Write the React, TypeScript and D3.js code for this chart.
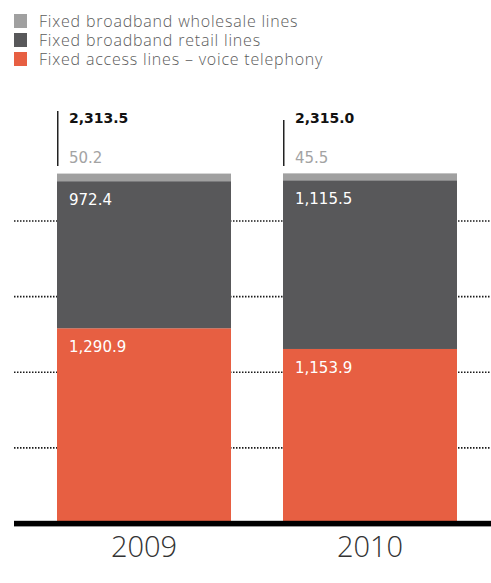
import React from "react";
import * as d3 from "d3";

const years = ["2009", "2010"];
const voiceLines = [1290.9, 1153.9];
const retailLines = [972.4, 1115.5];
const wholesaleLines = [50.2, 45.5];
const totals = ["2,313.5", "2,315.0"];
const voiceLabels = ["1,290.9", "1,153.9"];
const retailLabels = ["972.4", "1,115.5"];
const wholesaleLabels = ["50.2", "45.5"];
const gridValues = [500, 1000, 1500, 2000];
const legendItems = [
  { label: "Fixed broadband wholesale lines", color: "#a0a0a0" },
  { label: "Fixed broadband retail lines", color: "#58585a" },
  { label: "Fixed access lines – voice telephony", color: "#e75f42" },
];

const W = 491;
const H = 583;

export default function App() {
  const y = d3.scaleLinear().domain([0, 2000]).range([523.5, 221]);
  const x = d3
    .scaleBand<string>()
    .domain(years)
    .range([57, 457])
    .paddingInner(52 / 226)
    .paddingOuter(0);
  const bw = x.bandwidth();
  const numFont = "'DejaVu Sans', Verdana, sans-serif";
  const lightFont = "'Open Sans', 'Noto Sans', sans-serif";
  const leaderTops = [111, 120];

  return (
    <svg
      width={W}
      height={H}
      style={{ position: "absolute", left: 0, top: 0, background: "#fff" }}
    >
      {/* legend */}
      {legendItems.map((it, i) => (
        <g key={it.label}>
          <rect x={14} y={14 + i * 19} width={13} height={14} fill={it.color} />
          <text
            x={39}
            y={27 + i * 19}
            fontFamily={lightFont}
            fontWeight={300}
            fontSize={16}
            letterSpacing={0.8}
            fill="#5c5c5c"
          >
            {it.label}
          </text>
        </g>
      ))}

      {/* dotted grid */}
      {gridValues.map((v) => (
        <line
          key={v}
          x1={14}
          x2={491}
          y1={y(v)}
          y2={y(v)}
          stroke="#1a1a1a"
          strokeWidth={1.7}
          strokeDasharray="1.5 1.5"
        />
      ))}

      {/* bars */}
      {years.map((yr, i) => {
        const x0 = x(yr) as number;
        const v0 = voiceLines[i];
        const v1 = v0 + retailLines[i];
        const v2 = v1 + wholesaleLines[i];
        return (
          <g key={yr}>
            <rect x={x0} y={y(v0)} width={bw} height={y(0) - y(v0)} fill="#e75f42" />
            <rect x={x0} y={y(v1)} width={bw} height={y(v0) - y(v1)} fill="#58585a" />
            <rect x={x0} y={y(v2)} width={bw} height={y(v1) - y(v2)} fill="#a0a0a0" />
            <text
              x={x0 + 12}
              y={y(v0) + 24}
              fontFamily={numFont}
              fontSize={15}
              fill="#ffffff"
            >
              {voiceLabels[i]}
            </text>
            <text
              x={x0 + 12}
              y={y(v1) + 24}
              fontFamily={numFont}
              fontSize={15}
              fill="#ffffff"
            >
              {retailLabels[i]}
            </text>
            <line
              x1={x0 + 0.75}
              x2={x0 + 0.75}
              y1={leaderTops[i]}
              y2={166}
              stroke="#222"
              strokeWidth={1.5}
            />
            <text
              x={x0 + 12}
              y={123.3}
              fontFamily={numFont}
              fontWeight="bold"
              fontSize={14}
              fill="#111"
            >
              {totals[i]}
            </text>
            <text
              x={x0 + 12}
              y={162.7}
              fontFamily={numFont}
              fontSize={15}
              fill="#a3a3a3"
            >
              {wholesaleLabels[i]}
            </text>
            <text
              x={x0 + bw / 2}
              y={557}
              textAnchor="middle"
              fontFamily={lightFont}
              fontWeight={300}
              fontSize={29}
              fill="#333"
            >
              {yr}
            </text>
          </g>
        );
      })}

      {/* baseline */}
      <rect x={14} y={520.8} width={W - 14} height={5.6} fill="#000" />
    </svg>
  );
}
